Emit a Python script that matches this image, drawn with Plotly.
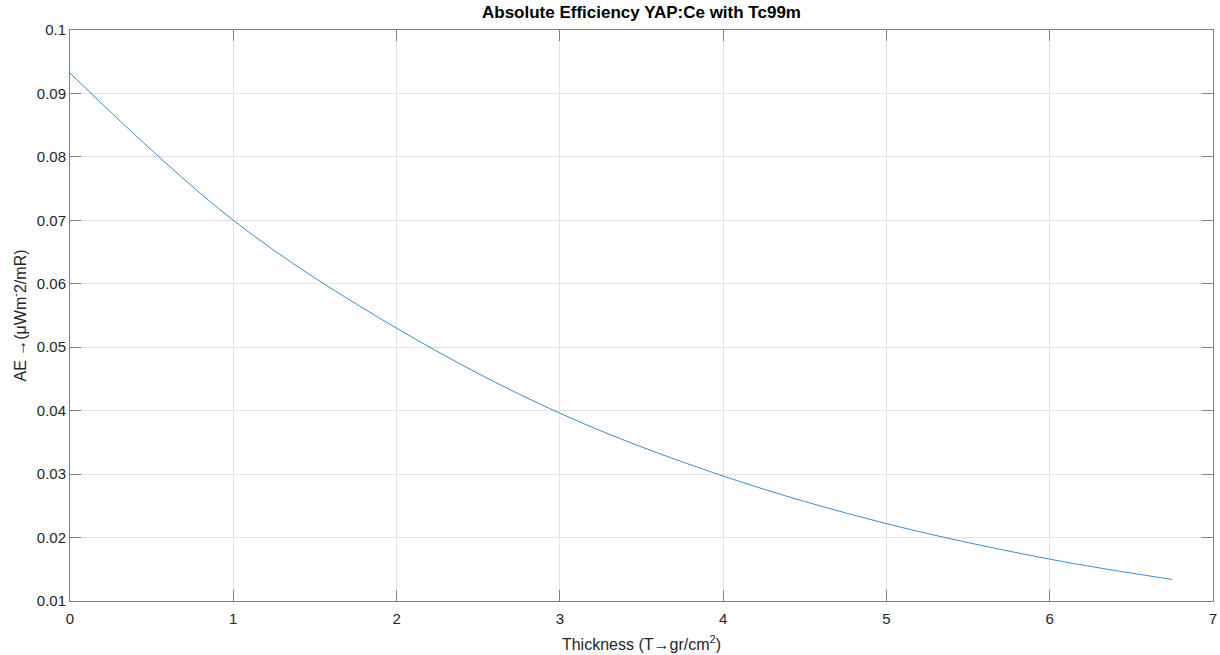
import plotly.graph_objects as go

# Absolute efficiency of YAP:Ce versus crystal thickness (Tc99m source)
thickness = [0, 1, 2, 3, 4, 5, 6, 6.75]
efficiency = [0.0932, 0.0700, 0.0530, 0.0396, 0.0297, 0.0222, 0.0166, 0.0134]

x_ticks = [0, 1, 2, 3, 4, 5, 6, 7]
y_ticks = [0.01, 0.02, 0.03, 0.04, 0.05, 0.06, 0.07, 0.08, 0.09, 0.1]
y_tick_text = ["0.01", "0.02", "0.03", "0.04", "0.05", "0.06", "0.07", "0.08", "0.09", "0.1"]

font_family = "Arial, Liberation Sans, Helvetica, DejaVu Sans, sans-serif"
axis_color = "#808080"
grid_color = "#e3e3e3"
text_color = "#262626"

fig = go.Figure(
    go.Scatter(
        x=thickness,
        y=efficiency,
        mode="lines",
        line=dict(color="#3b8dd0", width=1, shape="spline", smoothing=1.0),
        showlegend=False,
    )
)

common_axis = dict(
    showline=True,
    linecolor=axis_color,
    linewidth=1,
    mirror="ticks",
    ticks="inside",
    ticklen=11,
    tickwidth=1,
    tickcolor=axis_color,
    showgrid=True,
    gridcolor=grid_color,
    gridwidth=1,
    zeroline=False,
    automargin=False,
    tickfont=dict(family=font_family, size=15, color=text_color),
)

fig.update_xaxes(
    range=[0, 7],
    tickvals=x_ticks,
    ticktext=[str(v) for v in x_ticks],
    ticklabelstandoff=4,
    title=dict(
        text="Thickness (T→gr/cm<sup>2</sup>)",
        font=dict(family=font_family, size=16, color=text_color),
        standoff=12,
    ),
    **common_axis,
)
fig.update_yaxes(
    range=[0.01, 0.1],
    tickvals=y_ticks,
    ticktext=y_tick_text,
    title=dict(
        text="AE →(μWm<sup>-</sup>2/mR)",
        font=dict(family=font_family, size=16, color=text_color),
        standoff=6,
    ),
    **common_axis,
)

fig.update_layout(
    width=1220,
    height=655,
    margin=dict(l=70, r=7, t=30, b=54),
    paper_bgcolor="white",
    plot_bgcolor="white",
    title=dict(
        text="<b>Absolute Efficiency YAP:Ce with Tc99m</b>",
        x=0.5258,
        xanchor="center",
        y=0.982,
        yanchor="middle",
        font=dict(family=font_family, size=17, color="#000000"),
    ),
)

fig.write_html("out.html")
